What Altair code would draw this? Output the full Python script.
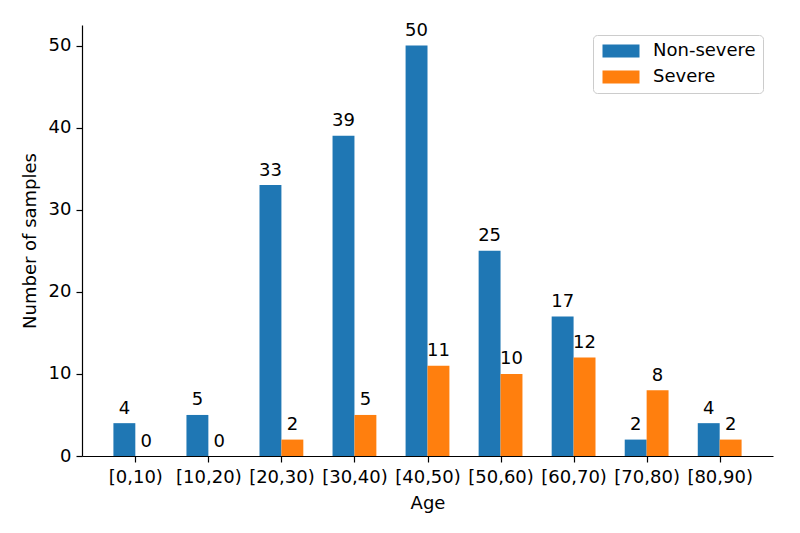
import altair as alt
import pandas as pd

categories = ["[0,10)", "[10,20)", "[20,30)", "[30,40)", "[40,50)",
              "[50,60)", "[60,70)", "[70,80)", "[80,90)"]
non_severe = [4, 5, 33, 39, 50, 25, 17, 2, 4]
severe = [0, 0, 2, 5, 11, 10, 12, 8, 2]
groups = ["Non-severe", "Severe"]
colors = ["#1f77b4", "#ff7f0e"]

bar_w = 0.3
rows = []
for i, c in enumerate(categories):
    rows.append({"idx": i, "cat": c, "group": groups[0], "value": non_severe[i],
                 "x0": i - bar_w, "x1": i, "xm": i - bar_w / 2})
    rows.append({"idx": i, "cat": c, "group": groups[1], "value": severe[i],
                 "x0": i, "x1": i + bar_w, "xm": i + bar_w / 2})
df = pd.DataFrame(rows)

FONT = "DejaVu Sans"
FS = 18

label_expr = "[" + ",".join("'%s'" % c for c in categories) + "][datum.value]"

xscale = alt.Scale(domain=[-0.73, 8.73], nice=False, zero=False)
yscale = alt.Scale(domain=[0, 52.5], nice=False)

base = alt.Chart(df)

bars = base.mark_bar().encode(
    x=alt.X("x0:Q", scale=xscale,
            axis=alt.Axis(values=list(range(len(categories))), labelExpr=label_expr,
                          title="Age", grid=False, tickSize=6, labelPadding=6,
                          titlePadding=8, labelFlush=False, labelOverlap=False)),
    x2="x1:Q",
    y=alt.Y("value:Q", scale=yscale,
            axis=alt.Axis(values=[0, 10, 20, 30, 40, 50], title="Number of samples",
                          grid=False, tickSize=6, labelPadding=5, titlePadding=9)),
    y2=alt.Y2(datum=0),
    color=alt.Color("group:N", scale=alt.Scale(domain=groups, range=colors),
                    legend=alt.Legend(title=None, orient="none", legendX=511, legendY=10,
                                      symbolType="M-2.846,-1L2.846,-1L2.846,1L-2.846,1Z",
                                      symbolSize=169, symbolOffset=12, labelOffset=23,
                                      symbolStrokeWidth=0,
                                      labelFontSize=FS, labelFont=FONT, rowPadding=8,
                                      padding=7, strokeColor="#cccccc", cornerRadius=4,
                                      fillColor="white")),
)

texts = base.mark_text(baseline="alphabetic", dy=-9.5, font=FONT, fontSize=FS,
                       color="black").encode(
    x=alt.X("xm:Q", scale=xscale),
    y=alt.Y("value:Q", scale=yscale),
    text="value:Q",
)

chart = (bars + texts).properties(
    width=691, height=431,
    autosize=alt.AutoSizeParams(type="none"),
    padding={"left": 74, "top": 17, "right": 19, "bottom": 69},
).configure_view(stroke=None).configure_axis(
    domainColor="black", tickColor="black", labelColor="black", titleColor="black",
    labelFont=FONT, titleFont=FONT, labelFontSize=FS, titleFontSize=FS,
    titleFontWeight="normal", domainWidth=1.2, tickWidth=1.2,
)

chart.save("out.html", embed_options={"renderer": "svg", "actions": False})
